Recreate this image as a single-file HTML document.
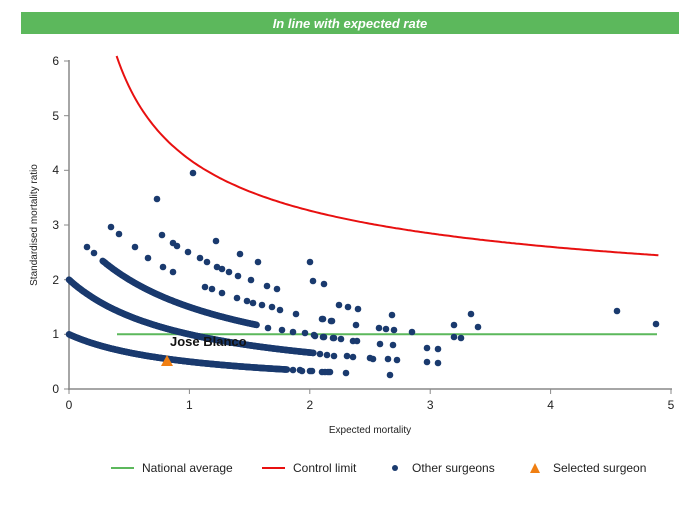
<!DOCTYPE html>
<html><head><meta charset="utf-8"><style>
body{margin:0;background:#fff;width:700px;height:500px;overflow:hidden;font-family:"Liberation Sans",sans-serif}
</style></head><body>
<svg id="s" width="700" height="500" xmlns="http://www.w3.org/2000/svg" font-family="Liberation Sans, sans-serif">
<rect x="21" y="12" width="658" height="22" fill="#5cb85c"/>
<text x="350" y="28" text-anchor="middle" fill="#fff" font-size="13" font-weight="bold" font-style="italic">In line with expected rate</text>
<g stroke="#888" stroke-width="1.5">
<line x1="69" y1="60" x2="69" y2="390"/>
<line x1="68" y1="389" x2="672" y2="389"/>
</g>
<g stroke="#888" stroke-width="1">
<line x1="64" y1="389" x2="69" y2="389"/><line x1="64" y1="334.3" x2="69" y2="334.3"/><line x1="64" y1="279.7" x2="69" y2="279.7"/><line x1="64" y1="225" x2="69" y2="225"/><line x1="64" y1="170.3" x2="69" y2="170.3"/><line x1="64" y1="115.7" x2="69" y2="115.7"/><line x1="64" y1="61" x2="69" y2="61"/>
<line x1="69" y1="389" x2="69" y2="394"/><line x1="189.4" y1="389" x2="189.4" y2="394"/><line x1="309.8" y1="389" x2="309.8" y2="394"/><line x1="430.2" y1="389" x2="430.2" y2="394"/><line x1="550.6" y1="389" x2="550.6" y2="394"/><line x1="671" y1="389" x2="671" y2="394"/>
</g>
<g font-size="12" fill="#222" text-anchor="end">
<text x="59" y="393">0</text><text x="59" y="338">1</text><text x="59" y="284">2</text><text x="59" y="229">3</text><text x="59" y="174">4</text><text x="59" y="120">5</text><text x="59" y="65">6</text>
</g>
<g font-size="12" fill="#222" text-anchor="middle">
<text x="69" y="409">0</text><text x="189.4" y="409">1</text><text x="309.8" y="409">2</text><text x="430.2" y="409">3</text><text x="550.6" y="409">4</text><text x="671" y="409">5</text>
</g>
<text x="370" y="433" font-size="10" fill="#222" text-anchor="middle">Expected mortality</text>
<text transform="translate(37,225) rotate(-90)" font-size="10" fill="#222" text-anchor="middle">Standardised mortality ratio</text>
<line x1="117" y1="334.3" x2="657" y2="334.3" stroke="#5cb85c" stroke-width="2"/>
<path id="cl" fill="none" stroke="#e81010" stroke-width="2"/>
<g id="dots" fill="#1a3a6e"></g>
<polygon points="167,355 161,366 173,366" fill="#f07f12"/>
<text x="170" y="346" font-size="13" font-weight="bold" fill="#111">Jose Blanco</text>
<g font-size="12" fill="#222">
<line x1="111" y1="468" x2="134" y2="468" stroke="#5cb85c" stroke-width="2"/><text x="142" y="472">National average</text>
<line x1="262" y1="468" x2="285" y2="468" stroke="#e81010" stroke-width="2"/><text x="293" y="472">Control limit</text>
<circle cx="395" cy="468" r="3" fill="#1a3a6e"/><text x="412" y="472">Other surgeons</text>
<polygon points="535,463 530,473 540,473" fill="#f07f12"/><text x="553" y="472">Selected surgeon</text>
</g>
</svg>
<script>
var X=function(x){return 69+x*120.4},Y=function(y){return 389-y*54.67};
var d="";for(var x=0.395;x<=4.9;x+=0.02){d+=(d?"L":"M")+X(x).toFixed(1)+","+Y(1+3.2/Math.sqrt(x)).toFixed(1);}
document.getElementById("cl").setAttribute("d",d);
var g=document.getElementById("dots"),h="";
function c(px,py){h+='<circle cx="'+px.toFixed(1)+'" cy="'+py.toFixed(1)+'" r="3.3"/>';}
function curve(k,a,b,st){for(var x=a;x<=b;x+=st)c(X(x),Y(k/(x+1)));}
curve(1,0,1.81,0.005);
curve(2,0,2.03,0.005);
curve(3,0.28,1.56,0.006);
var pts=[[193,173],[157,199],[111,227],[119,234],[87,247],[94,253],[162,235],[173,243],[177,246],[188,252],[216,241],[240,254],[258,262],[310,262],[313,281],[324,284],[339,305],
[135,247],[148,258],[163,267],[173,272],[200,258],[207,262],[217,267],[222,269],[229,272],[238,276],[251,280],[267,286],[277,289],[296,314],[322,319],[332,321],
[205,287],[212,289],[222,293],[237,298],[247,301],[253,303],[262,305],[272,307],[280,310],
[268,328],[282,330],[293,332],[305,333],[315,336],[323,337],[333,338],
[320,354],[327,355],[334,356],[347,356],[353,357],
[293,370],[300,370],[310,371],[322,372],[328,372],
[348,307],[358,309],[323,319],[331,321],[356,325],[379,328],[386,329],[394,330],[392,315],[412,332],[454,325],[471,314],[478,327],[617,311],[656,324],[454,337],[461,338],
[314,335],[324,337],[334,338],[341,339],[353,341],[357,341],[380,344],[393,345],[427,348],[438,349],
[370,358],[373,359],[388,359],[397,360],[427,362],[438,363],
[302,371],[312,371],[325,372],[330,372],[346,373],[390,375]];
pts.forEach(function(p){c(p[0],p[1]);});
g.innerHTML=h;
</script>
</body></html>
